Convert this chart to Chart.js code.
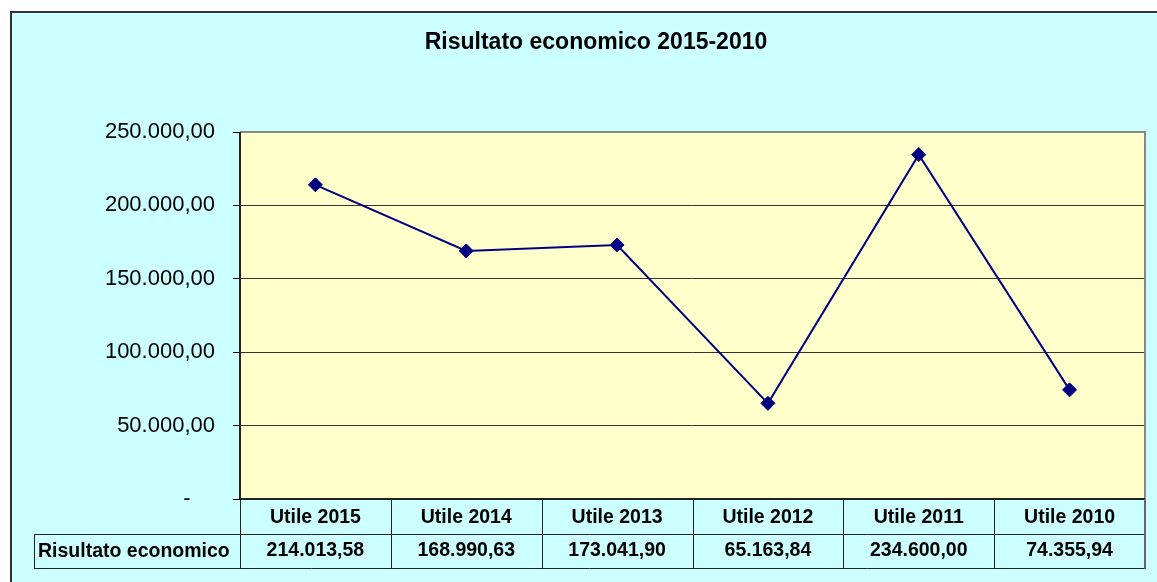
<!DOCTYPE html>
<html>
<head>
<meta charset="utf-8">
<script src="https://cdn.jsdelivr.net/npm/chart.js@4/dist/chart.umd.min.js"></script>
<style>
  html, body { margin: 0; padding: 0; background: #fff; }
  #wrap { width: 1157px; height: 582px; }
</style>
</head>
<body>
<div id="wrap"><canvas id="risultatoChart" width="1157" height="582"></canvas></div>
<script>
// Dati
const categories = ['Utile 2015', 'Utile 2014', 'Utile 2013', 'Utile 2012', 'Utile 2011', 'Utile 2010'];
const risultato = [214013.58, 168990.63, 173041.90, 65163.84, 234600.00, 74355.94];
const seriesName = 'Risultato economico';
const chartTitle = 'Risultato economico 2015-2010';
const yTicks = [0, 50000, 100000, 150000, 200000, 250000];

const FONT = '"Liberation Sans", Arial, sans-serif';

// formato italiano: 250.000,00
function fmt(v) {
    const parts = v.toFixed(2).split('.');
    const intPart = parts[0].replace(/\B(?=(\d{3})+(?!\d))/g, '.');
    return intPart + ',' + parts[1];
}

const backgroundPlugin = {
    id: 'excelFrame',
    beforeDraw(chart) {
        const ctx = chart.ctx;
        const a = chart.chartArea;
        ctx.save();
        // sfondo esterno
        ctx.fillStyle = '#CCFFFF';
        ctx.fillRect(10, 11, chart.width - 10, chart.height - 11);
        ctx.strokeStyle = '#333';
        ctx.lineWidth = 2;
        ctx.beginPath();
        ctx.moveTo(11, chart.height);
        ctx.lineTo(11, 12);
        ctx.lineTo(chart.width, 12);
        ctx.stroke();
        // area del grafico
        ctx.fillStyle = '#FFFFCC';
        ctx.fillRect(a.left, a.top, a.right - a.left, a.bottom - a.top);
        // titolo
        ctx.fillStyle = '#000';
        ctx.font = 'bold 23px ' + FONT;
        ctx.textAlign = 'center';
        ctx.textBaseline = 'middle';
        ctx.fillText(chartTitle, 596, 43);
        ctx.restore();
    },
    afterDatasetsDraw(chart) {
        const ctx = chart.ctx;
        const a = chart.chartArea;
        const x = chart.scales.x;
        const colW = (a.right - a.left) / categories.length;
        const row1 = a.bottom, row2 = a.bottom + 35, row3 = a.bottom + 69;
        const labelLeft = 34;
        ctx.save();
        // bordo area grafico
        ctx.strokeStyle = '#888';
        ctx.lineWidth = 2;
        ctx.beginPath();
        ctx.moveTo(a.left, a.top);
        ctx.lineTo(a.right, a.top);
        ctx.lineTo(a.right, a.bottom);
        ctx.stroke();
        ctx.strokeStyle = '#222';
        ctx.beginPath();
        ctx.moveTo(a.left, a.top);
        ctx.lineTo(a.left, a.bottom);
        ctx.lineTo(a.right, a.bottom);
        ctx.stroke();

        // tabella dati
        ctx.lineWidth = 1;
        ctx.strokeStyle = '#222';
        ctx.beginPath();
        ctx.moveTo(labelLeft, row2 + 0.5);
        ctx.lineTo(a.right, row2 + 0.5);
        ctx.moveTo(labelLeft, row3 + 0.5);
        ctx.lineTo(a.right, row3 + 0.5);
        ctx.moveTo(labelLeft + 0.5, row2);
        ctx.lineTo(labelLeft + 0.5, row3);
        for (let i = 0; i < categories.length; i++) {
            const px = Math.round(a.left + i * colW) + 0.5;
            ctx.moveTo(px, row1);
            ctx.lineTo(px, row3);
        }
        ctx.stroke();
        // bordo destro della tabella, grigio come nel foglio
        ctx.strokeStyle = '#666';
        ctx.lineWidth = 2;
        ctx.beginPath();
        ctx.moveTo(a.right, row1);
        ctx.lineTo(a.right, row3 + 1);
        ctx.stroke();

        ctx.fillStyle = '#000';
        ctx.font = 'bold 19.5px ' + FONT;
        ctx.textBaseline = 'middle';
        ctx.textAlign = 'center';
        categories.forEach((c, i) => {
            const cx = x.getPixelForValue(i);
            ctx.fillText(c, cx, (row1 + row2) / 2 + 1);
            ctx.fillText(fmt(risultato[i]), cx, (row2 + row3) / 2);
        });
        ctx.textAlign = 'left';
        ctx.fillText(seriesName, labelLeft + 4, (row2 + row3) / 2 + 1);
        ctx.restore();
    }
};

const ctx = document.getElementById('risultatoChart').getContext('2d');
new Chart(ctx, {
    type: 'line',
    data: {
        labels: categories,
        datasets: [{
            label: seriesName,
            data: risultato,
            borderColor: '#000080',
            backgroundColor: '#000080',
            borderWidth: 2,
            tension: 0,
            pointStyle: 'rectRot',
            pointRadius: 7,
            pointBorderWidth: 1,
            pointBorderColor: '#000080',
            pointBackgroundColor: '#000080'
        }]
    },
    options: {
        responsive: false,
        animation: false,
        devicePixelRatio: 1,
        layout: {
            padding: { left: 0, right: 12, top: 132, bottom: 83 }
        },
        plugins: {
            legend: { display: false },
            title: { display: false },
            tooltip: { enabled: false }
        },
        scales: {
            x: {
                display: false,
                offset: true
            },
            y: {
                min: 0,
                max: 250000,
                afterBuildTicks(scale) {
                    scale.ticks = yTicks.map(v => ({ value: v }));
                },
                afterFit(scale) {
                    scale.width = 240;
                },
                border: { display: false },
                grid: {
                    color: (c) => (c.tick && c.tick.value === 250000) ? '#888' : '#333',
                    tickColor: '#000',
                    tickLength: 7,
                    lineWidth: 1
                },
                ticks: {
                    padding: 18,
                    color: '#000',
                    font: { family: FONT, size: 22 },
                    callback: (v) => v === 0 ? '-    ' : fmt(v)
                }
            }
        }
    },
    plugins: [backgroundPlugin]
});
</script>
</body>
</html>
